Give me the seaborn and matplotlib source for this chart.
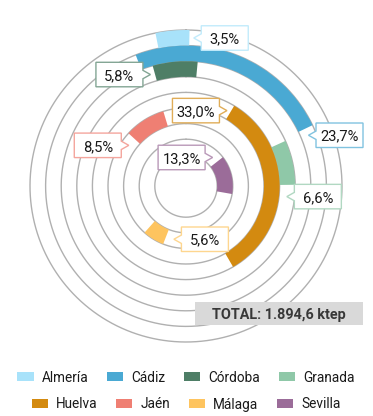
import numpy as np
import matplotlib
matplotlib.use("Agg")
import matplotlib.pyplot as plt
from matplotlib.patches import Patch, Polygon, Rectangle
import seaborn as sns

# Data
provinces = ["Almería", "Cádiz", "Córdoba", "Granada", "Huelva", "Jaén", "Málaga", "Sevilla"]
shares = [3.5, 23.7, 5.8, 6.6, 33.0, 8.5, 5.6, 13.3]
share_labels = ["3,5%", "23,7%", "5,8%", "6,6%", "33,0%", "8,5%", "5,6%", "13,3%"]
colors = ["#a8e2fa", "#4aa9d3", "#4e7e66", "#8fc8a8", "#d38a10", "#ef7f73", "#fec45f", "#9b6c99"]
total_text = "TOTAL: 1.894,6 ktep"

# Layout: arc start (deg clockwise from top), label tip angle and pointer side
start_deg = [-11.3, -21.0, -15.5, 65.6, 31.0, -47.5, 201.5, 52.0]
tip_deg = [3.0, 67.5, -17.7, 96.0, 28.5, -54.6, 192.8, 43.0]
tip_side = ["left", "left", "right", "left", "right", "right", "left", "right"]

sns.set_style("white")
plt.rcParams["font.family"] = ["Roboto", "DejaVu Sans"]

W, H = 373, 416
fig = plt.figure(figsize=(W / 100, H / 100), dpi=100)

# polar axes centred at (186, 186) px from top-left, 15.6 px per ring
unit = 15.6
rmax = 10.2
cx, cy = 186, H - 186
rad = rmax * unit
ax = fig.add_axes([(cx - rad) / W, (cy - rad) / H, 2 * rad / W, 2 * rad / H], projection="polar")
ax.set_theta_zero_location("N")
ax.set_theta_direction(-1)
ax.set_ylim(0, rmax)
ax.set_axis_off()

# grey rings
t = np.linspace(0, 2 * np.pi, 720)
for r in range(2, 11):
    ax.plot(t, np.full_like(t, r), color="#b0b0b0", lw=1.0, zorder=2)

palette = sns.color_palette(colors)
n = len(provinces)
for i in range(n):
    inner = 9 - i
    span = shares[i] * 3.6
    ax.bar(np.deg2rad(start_deg[i] + span / 2), 1, width=np.deg2rad(span), bottom=inner,
           color=palette[i], edgecolor="none", zorder=3)


def to_fig(pts):
    return fig.transFigure.inverted().transform(pts)


def callout(theta, r, text, color, side):
    tx, ty = ax.transData.transform((theta, r))
    w, h, gap, notch = 47, 24.5, 7.5, 4.2
    if side == "left":
        x0 = tx + gap
        x1 = x0 + w
        pts = [(x0, ty + h / 2), (x1, ty + h / 2), (x1, ty - h / 2), (x0, ty - h / 2),
               (x0, ty - notch), (tx, ty), (x0, ty + notch)]
    else:
        x1 = tx - gap
        x0 = x1 - w
        pts = [(x0, ty + h / 2), (x1, ty + h / 2), (x1, ty + notch), (tx, ty),
               (x1, ty - notch), (x1, ty - h / 2), (x0, ty - h / 2)]
    ax.add_patch(Polygon(to_fig(pts), closed=True, transform=fig.transFigure, clip_on=False,
                         facecolor="white", edgecolor=color, lw=1.0, zorder=5))
    fx, fy = to_fig([((x0 + x1) / 2, ty)])[0]
    ax.text(fx, fy, text, transform=fig.transFigure, ha="center", va="center_baseline",
            fontsize=10.6, color="#1a1a1a", zorder=6)


for i in range(n):
    c = np.array(palette[i])
    border = 0.7 * c + 0.3  # lighter outline like the reference
    callout(np.deg2rad(tip_deg[i]), 9 - i + 0.5, share_labels[i], border, tip_side[i])

# total box
bx0, bx1, by0, by1 = 195, 363, 301.5, 325
ax.add_patch(Rectangle((bx0 / W, 1 - by1 / H), (bx1 - bx0) / W, (by1 - by0) / H,
                       transform=fig.transFigure, clip_on=False, facecolor="#d9d9d9",
                       edgecolor="none", zorder=5))
ax.text((bx0 + bx1) / 2 / W, 1 - (by0 + by1) / 2 / H, total_text, transform=fig.transFigure,
        ha="center", va="center_baseline", fontsize=10.4, fontweight="bold", color="#383838", zorder=6)

# legend, two centred rows
handles = [Patch(facecolor=palette[i], edgecolor="none", label=provinces[i]) for i in range(n)]
for row, yc in [(handles[:4], 377.5), (handles[4:], 404.5)]:
    fig.legend(handles=row, loc="center", bbox_to_anchor=(186 / W, 1 - yc / H), ncol=4,
               frameon=False, fontsize=9.8, handlelength=1.2, handleheight=0.65,
               handletextpad=0.6, columnspacing=1.35, borderpad=0, borderaxespad=0,
               labelcolor="#1a1a1a")

fig.savefig("out.png", dpi=100)
